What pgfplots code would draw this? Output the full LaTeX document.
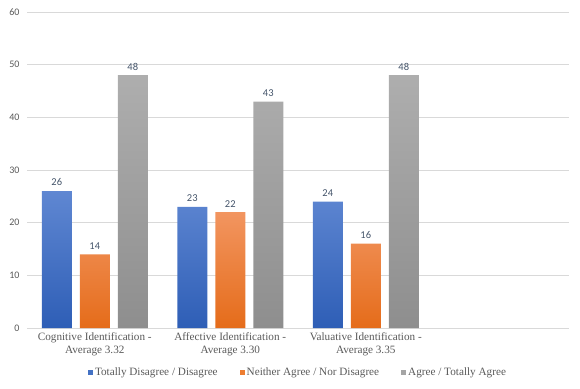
\documentclass[border=0pt]{standalone}
\usepackage{pgfplots}
\pgfplotsset{compat=1.18}
\usepackage{fontspec}
\setmainfont{Liberation Serif}
\newfontfamily\numfont{Carlito}
\definecolor{txt}{HTML}{595959}
\definecolor{lbl}{HTML}{44546A}
\definecolor{gridc}{HTML}{D9D9D9}
\definecolor{bt}{HTML}{5F87D2}
\definecolor{bb}{HTML}{2E5EB6}
\definecolor{ot}{HTML}{F29560}
\definecolor{ob}{HTML}{E56C1A}
\definecolor{gt}{HTML}{AEAEAE}
\definecolor{gb}{HTML}{8E8E8E}
\definecolor{bl}{HTML}{4472C4}
\definecolor{or}{HTML}{ED7D31}
\definecolor{gr}{HTML}{A5A5A5}
\begin{document}
\begin{tikzpicture}[x=1pt,y=1pt]
\path[use as bounding box] (-27,-60) rectangle (553,328);
\begin{axis}[
  at={(0,0)}, anchor=south west,
  scale only axis, width=542pt, height=316pt,
  ymin=0, ymax=60, ytick={0,10,...,60},
  xmin=-0.5, xmax=3.5,
  xtick={0,1,2},
  xticklabels={{Cognitive Identification -\\Average 3.32},{Affective Identification -\\Average 3.30},{Valuative Identification -\\Average 3.35}},
  xticklabel style={align=center, font=\fontsize{11.2}{13}\selectfont, text=txt, yshift=-1pt},
  yticklabel style={font=\numfont\fontsize{10}{11}\selectfont, text=txt, anchor=east, xshift=-4pt},
  /pgf/number format/assume math mode=true,
  major tick length=0pt,
  axis line style={draw=none},
  ymajorgrids, major grid style={draw=gridc, line width=0.8pt},
  ybar, bar width=30pt,
  nodes near coords,
  every node near coord/.append style={font=\numfont\fontsize{10.5}{11}\selectfont, text=lbl, yshift=1.5pt},
  legend columns=3,
  legend style={at={(0.5,-0.112)}, anchor=north, draw=none, fill=none,
    font=\fontsize{11.2}{13}\selectfont, text=txt,
    /tikz/every even column/.append style={column sep=20pt}},
  legend image code/.code={\fill[#1] (0pt,-2.5pt) rectangle (5pt,2.5pt);},
]
\addplot[draw=none, top color=bt, bottom color=bb, bar shift=-38pt, forget plot] coordinates {(0,26) (1,23) (2,24)};
\addplot[draw=none, top color=ot, bottom color=ob, bar shift=0pt, forget plot] coordinates {(0,14) (1,22) (2,16)};
\addplot[draw=none, top color=gt, bottom color=gb, bar shift=38pt, forget plot] coordinates {(0,48) (1,43) (2,48)};
\addlegendimage{fill=bl, draw=none}
\addlegendentry{Totally Disagree / Disagree}
\addlegendimage{fill=or, draw=none}
\addlegendentry{Neither Agree / Nor Disagree}
\addlegendimage{fill=gr, draw=none}
\addlegendentry{Agree / Totally Agree}
\end{axis}
\end{tikzpicture}
\end{document}
